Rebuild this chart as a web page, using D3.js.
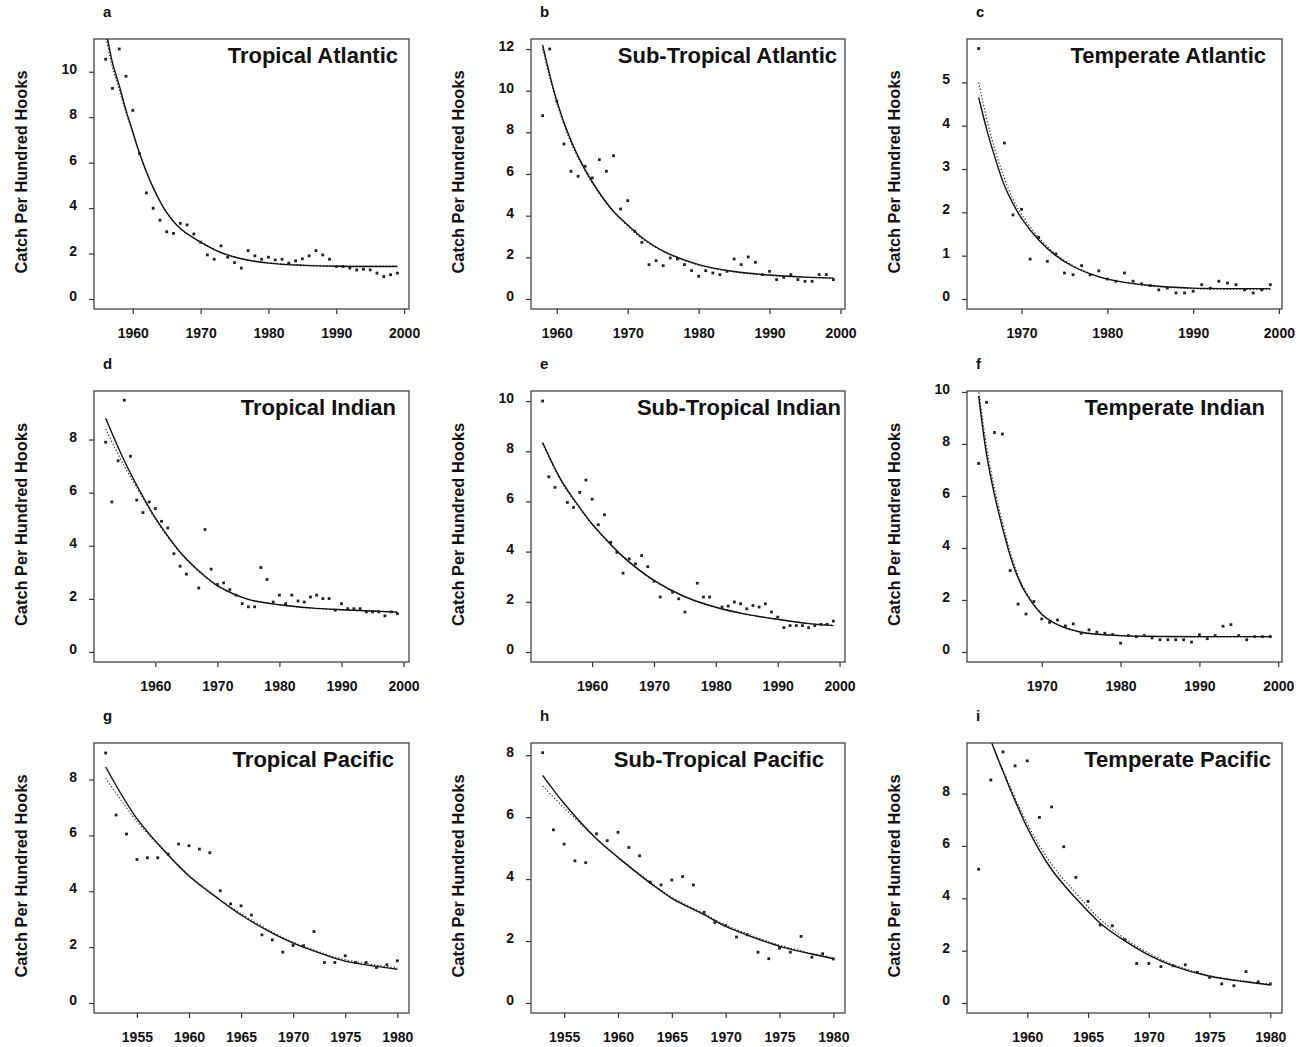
<!DOCTYPE html>
<html>
<head>
<meta charset="utf-8">
<script src="https://cdn.jsdelivr.net/npm/d3@7/dist/d3.min.js"></script>
<style>
  body { margin: 0; background: #fff; }
  svg { display: block; font-family: "Liberation Sans", Arial, sans-serif; }
</style>
</head>
<body>
<svg id="chart" width="1302" height="1047"></svg>
<script>
// ---- data (catch per hundred hooks) ----

// a Tropical Atlantic
var tropAtlYears = [1956,1957,1958,1959,1960,1961,1962,1963,1964,1965,1966,1967,1968,1969,1970,1971,1972,1973,1974,1975,1976,1977,1978,1979,1980,1981,1982,1983,1984,1985,1986,1987,1988,1989,1990,1991,1992,1993,1994,1995,1996,1997,1998,1999];
var tropAtlCpue = [10.55,9.27,11.0,9.8,8.3,6.4,4.67,3.99,3.47,2.96,2.89,3.33,3.26,2.86,2.5,1.94,1.75,2.34,1.84,1.6,1.36,2.13,1.9,1.75,1.84,1.72,1.75,1.58,1.68,1.77,1.9,2.13,1.94,1.75,1.43,1.43,1.36,1.28,1.31,1.28,1.14,0.99,1.07,1.14];
var tropAtlFitYears = [1956,1957,1958,1959,1960,1961,1962,1963,1964,1965,1967,1970,1973,1976,1980,1985,1990,1995,1999];
var tropAtlFit = [11.9,10.4,9.4,8.3,7.35,6.4,5.6,4.9,4.3,3.8,3.1,2.5,2.04,1.77,1.58,1.48,1.44,1.43,1.43];
var tropAtlFit2 = [11.6,10.2,9.2,8.2,7.3,6.4,5.6,4.9,4.3,3.8,3.1,2.5,2.05,1.78,1.6,1.5,1.46,1.45,1.45];

// b Sub-Tropical Atlantic
var subAtlYears = [1958,1959,1960,1961,1962,1963,1964,1965,1966,1967,1968,1969,1970,1971,1972,1973,1974,1975,1976,1977,1978,1979,1980,1981,1982,1983,1984,1985,1986,1987,1988,1989,1990,1991,1992,1993,1994,1995,1996,1997,1998,1999];
var subAtlCpue = [8.8,12.0,9.5,7.44,6.13,5.89,6.37,5.81,6.69,6.13,6.88,4.32,4.72,3.25,2.72,1.65,1.84,1.6,1.97,1.92,1.65,1.36,1.09,1.36,1.25,1.17,1.33,1.92,1.65,2.02,1.76,1.17,1.33,0.93,1.04,1.17,0.93,0.85,0.85,1.17,1.17,0.93];
var subAtlFitYears = [1958,1960,1962,1964,1966,1968,1970,1972,1975,1980,1985,1990,1995,1999];
var subAtlFit = [12.2,9.5,7.6,6.2,5.1,4.2,3.55,2.95,2.3,1.65,1.32,1.15,1.05,1.0];
var subAtlFit2 = [12.0,9.4,7.5,6.15,5.05,4.2,3.5,2.9,2.28,1.63,1.3,1.13,1.04,1.0];

// c Temperate Atlantic
var tempAtlYears = [1965,1968,1969,1970,1971,1972,1973,1974,1975,1976,1977,1978,1979,1980,1981,1982,1983,1984,1985,1986,1987,1988,1989,1990,1991,1992,1993,1994,1995,1996,1997,1998,1999];
var tempAtlCpue = [5.78,3.6,1.94,2.07,0.92,1.42,0.87,1.04,0.6,0.56,0.77,0.56,0.65,0.46,0.41,0.6,0.41,0.35,0.31,0.21,0.25,0.14,0.14,0.18,0.33,0.25,0.41,0.37,0.33,0.21,0.14,0.21,0.33];
var tempAtlFitYears = [1965,1966,1967,1968,1969,1970,1972,1974,1976,1978,1980,1985,1990,1995,1999];
var tempAtlFit = [4.65,3.87,3.2,2.62,2.2,1.86,1.36,1.0,0.75,0.58,0.46,0.31,0.25,0.24,0.24];
var tempAtlFit2 = [5.0,4.1,3.38,2.78,2.3,1.95,1.42,1.03,0.77,0.59,0.46,0.3,0.24,0.22,0.22];

// d Tropical Indian
var tropIndYears = [1952,1953,1954,1955,1956,1957,1958,1959,1960,1961,1962,1963,1964,1965,1967,1968,1969,1970,1971,1972,1973,1974,1975,1976,1977,1978,1979,1980,1981,1982,1983,1984,1985,1986,1987,1988,1989,1990,1991,1992,1993,1994,1995,1996,1997,1998,1999];
var tropIndCpue = [7.9,5.65,7.2,9.48,7.37,5.72,5.25,5.65,5.4,4.92,4.67,3.7,3.23,2.93,2.41,4.61,3.12,2.54,2.6,2.35,2.14,1.82,1.7,1.7,3.18,2.73,1.88,2.14,1.82,2.14,1.92,1.88,2.07,2.14,2.01,2.01,1.57,1.82,1.63,1.63,1.63,1.51,1.51,1.51,1.36,1.51,1.44];
var tropIndFitYears = [1952,1955,1958,1960,1963,1965,1968,1970,1975,1980,1985,1990,1995,1999];
var tropIndFit = [8.8,7.2,5.85,5.05,4.05,3.5,2.85,2.5,1.98,1.78,1.66,1.59,1.54,1.5];
var tropIndFit2 = [8.4,7.0,5.8,5.0,4.02,3.48,2.83,2.48,1.97,1.77,1.65,1.59,1.54,1.5];

// e Sub-Tropical Indian
var subIndYears = [1952,1953,1954,1956,1957,1958,1959,1960,1961,1962,1963,1964,1965,1966,1967,1968,1969,1970,1971,1973,1974,1975,1977,1978,1979,1981,1982,1983,1984,1985,1986,1987,1988,1989,1990,1991,1992,1993,1994,1995,1996,1997,1998,1999];
var subIndCpue = [10.0,6.98,6.56,5.96,5.76,6.36,6.85,6.09,5.07,5.47,4.37,3.97,3.14,3.71,3.51,3.84,3.4,2.82,2.19,2.38,2.12,1.59,2.74,2.19,2.19,1.79,1.83,1.99,1.92,1.72,1.85,1.79,1.92,1.59,1.39,0.97,1.05,1.05,1.05,0.97,1.05,1.1,1.1,1.23];
var subIndFitYears = [1952,1955,1958,1960,1962,1965,1970,1975,1980,1985,1990,1995,1999];
var subIndFit = [8.35,6.85,5.75,5.1,4.55,3.8,2.85,2.2,1.78,1.5,1.3,1.13,1.05];
var subIndFit2 = [8.3,6.8,5.72,5.08,4.53,3.78,2.84,2.2,1.79,1.5,1.3,1.14,1.07];

// f Temperate Indian
var tempIndYears = [1962,1963,1964,1965,1966,1967,1968,1969,1970,1971,1972,1973,1974,1975,1976,1977,1978,1979,1980,1981,1982,1983,1984,1985,1986,1987,1988,1989,1990,1991,1992,1993,1994,1995,1996,1997,1998,1999];
var tempIndCpue = [7.25,9.6,8.44,8.38,3.13,1.84,1.46,1.94,1.27,1.14,1.23,1.0,1.08,0.72,0.85,0.76,0.72,0.67,0.34,0.63,0.59,0.63,0.54,0.47,0.47,0.47,0.47,0.38,0.66,0.51,0.63,0.99,1.05,0.63,0.47,0.59,0.59,0.59];
var tempIndFitYears = [1962,1963,1964,1965,1966,1967,1968,1970,1972,1975,1980,1985,1990,1999];
var tempIndFit = [9.85,7.6,6.05,4.8,3.7,2.85,2.25,1.45,1.05,0.76,0.63,0.6,0.59,0.59];
var tempIndFit2 = [10.1,7.9,6.3,5.0,3.85,2.95,2.3,1.48,1.06,0.77,0.62,0.58,0.58,0.58];

// g Tropical Pacific
var tropPacYears = [1952,1953,1954,1955,1956,1957,1958,1959,1960,1961,1962,1963,1964,1965,1966,1967,1968,1969,1970,1971,1972,1973,1974,1975,1976,1977,1978,1979,1980];
var tropPacCpue = [8.95,6.73,6.05,5.14,5.2,5.2,5.33,5.69,5.63,5.51,5.38,4.02,3.55,3.48,3.15,2.44,2.26,1.82,2.06,2.05,2.56,1.45,1.45,1.69,1.45,1.45,1.27,1.37,1.51];
var tropPacFitYears = [1952,1955,1958,1960,1963,1965,1968,1970,1973,1975,1978,1980];
var tropPacFit = [8.45,6.6,5.3,4.55,3.68,3.15,2.5,2.14,1.73,1.5,1.31,1.21];
var tropPacFit2 = [8.05,6.5,5.3,4.57,3.7,3.2,2.54,2.18,1.77,1.55,1.35,1.26];

// h Sub-Tropical Pacific
var subPacYears = [1953,1954,1955,1956,1957,1958,1959,1960,1961,1962,1963,1964,1965,1966,1967,1968,1969,1970,1971,1972,1973,1974,1975,1976,1977,1978,1979,1980];
var subPacCpue = [8.08,5.59,5.13,4.59,4.53,5.46,5.24,5.51,5.02,4.75,3.9,3.81,3.97,4.08,3.81,2.93,2.6,2.5,2.13,2.2,1.64,1.43,1.77,1.64,2.15,1.48,1.59,1.42];
var subPacFitYears = [1953,1955,1958,1960,1963,1965,1968,1970,1973,1975,1978,1980];
var subPacFit = [7.35,6.44,5.3,4.7,3.87,3.38,2.85,2.47,2.06,1.83,1.58,1.43];
var subPacFit2 = [7.0,6.3,5.3,4.7,3.9,3.42,2.88,2.52,2.1,1.87,1.6,1.46];

// i Temperate Pacific
var tempPacYears = [1956,1957,1958,1959,1960,1961,1962,1963,1964,1965,1966,1967,1968,1969,1970,1971,1972,1973,1974,1975,1976,1977,1978,1979,1980];
var tempPacCpue = [5.11,8.52,9.59,9.06,9.25,7.09,7.49,5.97,4.8,3.88,2.98,2.95,2.42,1.51,1.51,1.39,1.42,1.46,1.17,0.98,0.73,0.66,1.2,0.81,0.73];
var tempPacFitYears = [1956,1957,1958,1960,1962,1964,1966,1968,1970,1972,1975,1978,1980];
var tempPacFit = [11.6,10.05,8.85,6.7,5.1,4.0,3.05,2.38,1.83,1.42,1.02,0.81,0.69];
var tempPacFit2 = [11.6,10.05,8.9,6.85,5.3,4.2,3.2,2.47,1.9,1.47,1.05,0.83,0.72];

// tick labels
var decadeTicks = [1960,1970,1980,1990,2000];
var lateDecadeTicks = [1970,1980,1990,2000];
var fiveYearTicks = [1955,1960,1965,1970,1975,1980];
var lateFiveYearTicks = [1960,1965,1970,1975,1980];

var yLabel = "Catch Per Hundred Hooks";

var panels = [
  { letter: "a", title: "Tropical Atlantic", years: tropAtlYears, cpue: tropAtlCpue, fitYears: tropAtlFitYears, fit: tropAtlFit, fit2: tropAtlFit2, yMax: 11, yTicks: [0,2,4,6,8,10], xTicks: decadeTicks, col: 0, row: 0, titleRight: 398 },
  { letter: "b", title: "Sub-Tropical Atlantic", years: subAtlYears, cpue: subAtlCpue, fitYears: subAtlFitYears, fit: subAtlFit, fit2: subAtlFit2, yMax: 12, yTicks: [0,2,4,6,8,10,12], xTicks: decadeTicks, col: 1, row: 0, titleRight: 837 },
  { letter: "c", title: "Temperate Atlantic", years: tempAtlYears, cpue: tempAtlCpue, fitYears: tempAtlFitYears, fit: tempAtlFit, fit2: tempAtlFit2, yMax: 5.77, yTicks: [0,1,2,3,4,5], xTicks: lateDecadeTicks, col: 2, row: 0, titleRight: 1266 },
  { letter: "d", title: "Tropical Indian", years: tropIndYears, cpue: tropIndCpue, fitYears: tropIndFitYears, fit: tropIndFit, fit2: tropIndFit2, yMax: 9.45, yTicks: [0,2,4,6,8], xTicks: decadeTicks, col: 0, row: 1, titleRight: 396 },
  { letter: "e", title: "Sub-Tropical Indian", years: subIndYears, cpue: subIndCpue, fitYears: subIndFitYears, fit: subIndFit, fit2: subIndFit2, yMax: 10, yTicks: [0,2,4,6,8,10], xTicks: decadeTicks, col: 1, row: 1, titleRight: 841 },
  { letter: "f", title: "Temperate Indian", years: tempIndYears, cpue: tempIndCpue, fitYears: tempIndFitYears, fit: tempIndFit, fit2: tempIndFit2, yMax: 9.65, yTicks: [0,2,4,6,8,10], xTicks: lateDecadeTicks, col: 2, row: 1, titleRight: 1265 },
  { letter: "g", title: "Tropical Pacific", years: tropPacYears, cpue: tropPacCpue, fitYears: tropPacFitYears, fit: tropPacFit, fit2: tropPacFit2, yMax: 8.95, yTicks: [0,2,4,6,8], xTicks: fiveYearTicks, col: 0, row: 2, titleRight: 394 },
  { letter: "h", title: "Sub-Tropical Pacific", years: subPacYears, cpue: subPacCpue, fitYears: subPacFitYears, fit: subPacFit, fit2: subPacFit2, yMax: 8.07, yTicks: [0,2,4,6,8], xTicks: fiveYearTicks, col: 1, row: 2, titleRight: 824 },
  { letter: "i", title: "Temperate Pacific", years: tempPacYears, cpue: tempPacCpue, fitYears: tempPacFitYears, fit: tempPacFit, fit2: tempPacFit2, yMax: 9.55, yTicks: [0,2,4,6,8], xTicks: lateFiveYearTicks, col: 2, row: 2, titleRight: 1271 }
];

// plot box edges per column / row
var colLeft = [94, 531, 967];
var colRight = [409, 845, 1282];
var rowTop = [39, 391, 743];
var rowBottom = [309, 662, 1013];

var svg = d3.select("#chart");
svg.append("rect").attr("width", 1302).attr("height", 1047).attr("fill", "#fff");

var ink = "#222";

panels.forEach(function(p){
  var left = colLeft[p.col], right = colRight[p.col];
  var top = rowTop[p.row], bottom = rowBottom[p.row];

  // R style 4% padding on both axes
  var x0 = p.years[0], x1 = p.years[p.years.length - 1];
  var xPad = (x1 - x0) * 0.04;
  var x = d3.scaleLinear().domain([x0 - xPad, x1 + xPad]).range([left, right]);
  var y = d3.scaleLinear().domain([-0.04 * p.yMax, 1.04 * p.yMax]).range([bottom, top]);

  var g = svg.append("g").attr("class", "panel panel-" + p.letter);

  var clipId = "clip-" + p.letter;
  g.append("clipPath").attr("id", clipId)
    .append("rect")
      .attr("x", left).attr("y", top)
      .attr("width", right - left).attr("height", bottom - top);

  // axes
  var yAxis = d3.axisLeft(y).tickValues(p.yTicks).tickSize(5).tickPadding(12).tickFormat(d3.format("d"));
  var xAxis = d3.axisBottom(x).tickValues(p.xTicks).tickSize(5).tickPadding(14).tickFormat(d3.format("d"));

  var ya = g.append("g").attr("transform", "translate(" + left + ",0)").call(yAxis);
  var xa = g.append("g").attr("transform", "translate(0," + bottom + ")").call(xAxis);

  [ya, xa].forEach(function(a){
    a.select(".domain").remove();
    a.selectAll("line").attr("stroke", "#333").attr("stroke-width", 1.2);
    a.selectAll("text")
      .attr("fill", "#111")
      .style("font-size", "14px")
      .style("font-weight", "bold");
  });
  ya.selectAll("text").attr("y", -3);

  // fitted curves
  var line = d3.line()
    .x(function(d){ return x(d.year); })
    .y(function(d){ return y(d.value); })
    .curve(d3.curveCatmullRom.alpha(0.5));

  var fitSolid = p.fitYears.map(function(yr, k){ return { year: yr, value: p.fit[k] }; });
  var fitDotted = p.fitYears.map(function(yr, k){ return { year: yr, value: p.fit2[k] }; });

  g.append("path")
    .attr("clip-path", "url(#" + clipId + ")")
    .attr("fill", "none")
    .attr("stroke", ink)
    .attr("stroke-width", 1.1)
    .attr("stroke-dasharray", "1.3,2")
    .attr("d", line(fitDotted));

  g.append("path")
    .attr("clip-path", "url(#" + clipId + ")")
    .attr("fill", "none")
    .attr("stroke", "#111")
    .attr("stroke-width", 1.4)
    .attr("d", line(fitSolid));

  // observed points
  var pts = p.years.map(function(yr, k){ return { year: yr, value: p.cpue[k] }; });
  g.selectAll(".pt")
    .data(pts)
    .enter().append("rect")
      .attr("class", "pt")
      .attr("x", function(d){ return x(d.year) - 1.4; })
      .attr("y", function(d){ return y(d.value) - 1.4; })
      .attr("width", 2.8)
      .attr("height", 2.8)
      .attr("fill", ink);

  // box
  g.append("rect")
    .attr("x", left).attr("y", top)
    .attr("width", right - left).attr("height", bottom - top)
    .attr("fill", "none")
    .attr("stroke", "#444")
    .attr("stroke-width", 1.3);

  // title inside the box
  g.append("text")
    .attr("x", p.titleRight)
    .attr("y", top + 24)
    .attr("text-anchor", "end")
    .attr("fill", "#111")
    .style("font-size", "22px")
    .style("font-weight", "bold")
    .text(p.title);

  // panel letter
  g.append("text")
    .attr("x", left + 9)
    .attr("y", top - 22)
    .attr("fill", "#111")
    .style("font-size", "15px")
    .style("font-weight", "bold")
    .text(p.letter);

  // y axis label
  var lx = left - 67, ly = (top + bottom) / 2 - 2;
  g.append("text")
    .attr("x", lx)
    .attr("y", ly)
    .attr("transform", "rotate(-90," + lx + "," + ly + ")")
    .attr("text-anchor", "middle")
    .attr("fill", "#111")
    .attr("textLength", 203)
    .attr("lengthAdjust", "spacingAndGlyphs")
    .style("font-size", "16px")
    .style("font-weight", "bold")
    .text(yLabel);
});
</script>
</body>
</html>
